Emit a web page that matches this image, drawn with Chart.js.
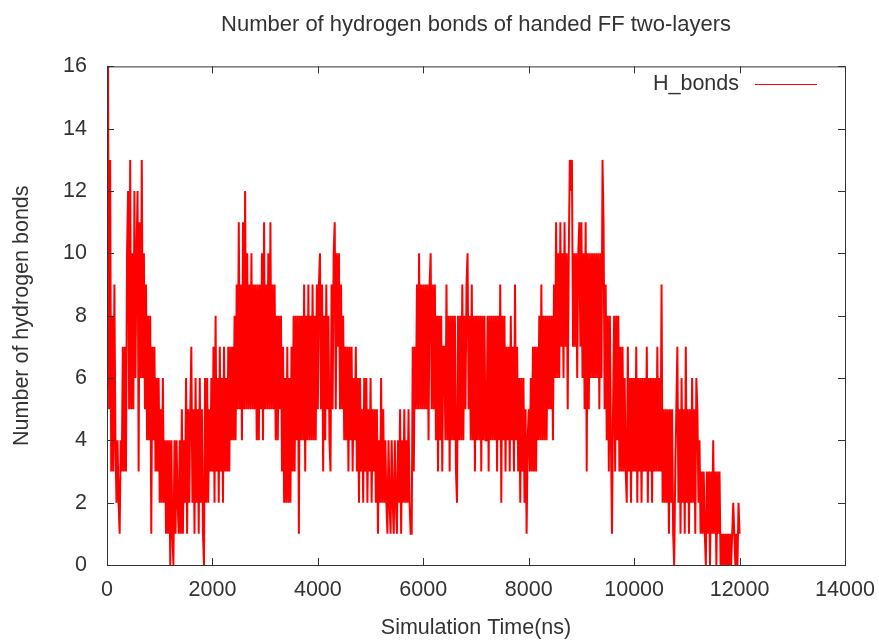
<!DOCTYPE html>
<html>
<head>
<meta charset="utf-8">
<title>Number of hydrogen bonds of handed FF two-layers</title>
<script src="https://cdn.jsdelivr.net/npm/chart.js@4.4.1/dist/chart.umd.min.js"></script>
<style>
  html, body { margin: 0; padding: 0; background: #fff; overflow: hidden; }
</style>
</head>
<body>
<canvas id="chart" width="879" height="641"></canvas>
<script>
const STEP_NS = 20;
const hbonds0 = [ // 0 - 1980 ns
    13,16,5,13,3,8,3,9,4,2,4,2,1,4,3,7,3,7,3,10,
    12,5,13,5,10,5,12,6,10,12,3,11,6,13,6,10,5,9,4,8,
    4,8,1,7,4,7,3,6,3,6,2,5,2,6,2,4,1,4,1,4,
    0,4,1,0,4,1,4,2,1,4,1,5,1,4,2,6,1,5,2,5,
    7,2,5,1,6,2,5,1,6,2,5,1,0,6,2,6,2,5,3,6
];
const hbonds1 = [ // 2000 - 3980 ns
    3,7,2,8,3,6,2,7,3,6,2,7,3,6,3,7,3,7,4,7,
    4,8,4,9,5,11,5,9,4,11,5,12,5,10,5,9,5,10,5,9,
    5,9,4,9,4,9,5,10,4,11,5,9,5,10,5,11,5,9,5,9,
    4,8,4,8,5,8,3,7,2,6,2,7,2,6,2,7,3,8,3,8,
    4,8,1,8,4,8,4,9,3,8,4,9,4,8,4,9,4,8,4,9
];
const hbonds2 = [ // 4000 - 5980 ns
    5,9,10,5,9,3,8,4,9,5,8,4,3,9,5,10,11,5,10,7,
    10,5,9,5,8,4,7,4,7,3,7,4,7,3,6,4,7,3,6,2,
    6,3,5,2,6,3,6,2,5,3,6,2,5,3,5,2,5,1,4,2,
    6,2,5,2,4,2,1,4,2,1,4,2,1,4,2,1,4,2,5,1,
    4,2,5,2,4,2,5,2,1,1,7,3,7,5,9,5,10,5,9,5
];
const hbonds3 = [ // 6000 - 7980 ns
    9,5,9,5,9,4,9,10,5,9,5,9,4,8,3,8,4,8,3,7,
    7,4,9,4,8,3,8,4,8,4,8,3,2,8,4,8,4,9,4,8,
    5,9,10,5,8,4,9,4,8,3,8,4,8,4,8,3,8,4,8,4,
    4,8,3,8,4,8,4,8,4,8,3,8,4,9,2,8,4,8,3,7,
    4,7,3,8,4,7,3,9,4,7,3,6,2,6,3,6,2,5,1,4
];
const hbonds4 = [ // 8000 - 9980 ns
    5,3,6,3,7,3,7,3,7,4,8,4,9,4,8,4,8,4,8,5,
    8,5,8,4,9,6,11,6,10,6,11,7,10,6,11,7,10,5,10,13,
    12,13,7,10,7,10,6,10,11,7,11,6,10,5,11,3,10,5,10,6,
    10,6,10,6,10,6,10,5,10,6,13,11,5,9,4,8,3,8,4,1,
    5,8,3,8,4,8,3,7,3,7,3,6,3,2,7,3,6,2,6,3
];
const hbonds5 = [ // 10000 - 12000 ns
    6,3,7,2,6,3,6,2,6,3,6,3,7,2,6,3,6,2,6,3,
    6,3,7,3,6,3,9,2,5,2,5,2,5,1,5,2,5,1,0,3,
    5,7,2,5,1,6,2,5,1,7,2,5,1,5,2,6,2,5,1,6,
    5,2,4,1,3,1,3,1,0,3,1,3,0,3,1,4,1,3,0,3,
    1,3,0,1,0,1,0,1,0,1,0,1,0,1,2,1,0,1,0,2,
    1
];
const seriesLabel = 'H_bonds';
const xTicks = [0, 2000, 4000, 6000, 8000, 10000, 12000, 14000];
const yTicks = [0, 2, 4, 6, 8, 10, 12, 14, 16];

const hbonds = [].concat(hbonds0, hbonds1, hbonds2, hbonds3, hbonds4, hbonds5);
const points = hbonds.map((v, i) => ({ x: i * STEP_NS, y: v }));

const FONT = { family: "'Liberation Sans', Arial, sans-serif", size: 21.5 };
const INK = '#333';

// gnuplot style box with inward ticks on all four sides, plus the key
const gnuFrame = {
    id: 'gnuFrame',
    afterDatasetsDraw(chart) {
        const { ctx, chartArea: a, scales: { x, y } } = chart;
        ctx.save();
        ctx.strokeStyle = '#333';
        ctx.lineWidth = 1;
        ctx.beginPath();
        xTicks.forEach(t => {
            const px = Math.round(x.getPixelForValue(t)) + 0.5;
            ctx.moveTo(px, a.bottom); ctx.lineTo(px, a.bottom - 7);
            ctx.moveTo(px, a.top); ctx.lineTo(px, a.top + 7);
        });
        yTicks.forEach(t => {
            const py = Math.round(y.getPixelForValue(t)) + 0.5;
            ctx.moveTo(a.left, py); ctx.lineTo(a.left + 7, py);
            ctx.moveTo(a.right, py); ctx.lineTo(a.right - 7, py);
        });
        ctx.stroke();
        ctx.strokeRect(a.left + 0.5, a.top + 0.5, a.right - a.left, a.bottom - a.top);

        // key
        ctx.fillStyle = INK;
        ctx.font = FONT.size + 'px ' + FONT.family;
        ctx.textAlign = 'right';
        ctx.textBaseline = 'middle';
        ctx.fillText(seriesLabel, 739, 84);
        ctx.strokeStyle = '#ff0000';
        ctx.beginPath();
        ctx.moveTo(755, 84.5); ctx.lineTo(817, 84.5);
        ctx.stroke();
        ctx.restore();
    }
};

new Chart(document.getElementById('chart').getContext('2d'), {
    type: 'line',
    data: {
        datasets: [{
            label: seriesLabel,
            data: points,
            borderColor: '#ff0000',
            borderWidth: 2,
            pointRadius: 0,
            tension: 0,
            fill: false
        }]
    },
    options: {
        responsive: false,
        animation: false,
        devicePixelRatio: 1,
        layout: { padding: { left: 0, right: 34, top: 0, bottom: 0 } },
        plugins: {
            legend: { display: false },
            tooltip: { enabled: false },
            title: {
                display: true,
                fullSize: false,
                text: 'Number of hydrogen bonds of handed FF two-layers',
                color: INK,
                font: { ...FONT, size: 22, weight: 'normal' },
                padding: { top: 12, bottom: 28 }
            }
        },
        scales: {
            x: {
                type: 'linear',
                min: 0,
                max: 14000,
                afterBuildTicks: s => { s.ticks = xTicks.map(v => ({ value: v })); },
                ticks: { color: INK, font: FONT, padding: 12, maxRotation: 0, callback: v => String(v) },
                grid: { display: false, drawTicks: false },
                border: { display: false },
                title: { display: true, text: 'Simulation Time(ns)', color: INK, font: FONT, padding: { top: 0, bottom: 0 } },
                afterFit: s => { s.height = 76; s.paddingRight = 0; s.paddingLeft = 0; }
            },
            y: {
                min: 0,
                max: 16,
                afterBuildTicks: s => { s.ticks = yTicks.map(v => ({ value: v })); },
                ticks: { color: INK, font: FONT, padding: 20 },
                grid: { display: false, drawTicks: false },
                border: { display: false },
                title: { display: true, text: 'Number of hydrogen bonds', color: INK, font: FONT, padding: { top: 9, bottom: 0 } },
                afterFit: s => { s.width = 107; }
            }
        }
    },
    plugins: [gnuFrame]
});
</script>
</body>
</html>
